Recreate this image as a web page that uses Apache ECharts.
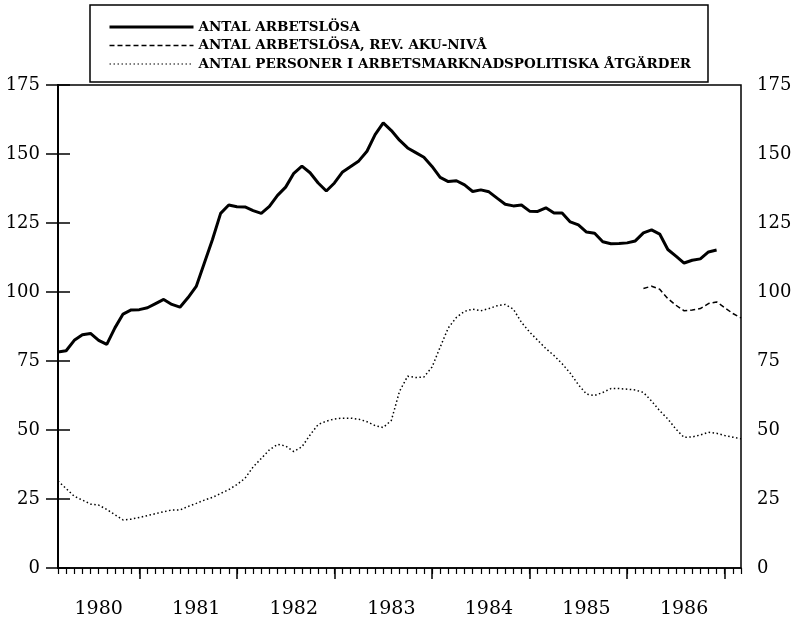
<!DOCTYPE html>
<html>
<head>
<meta charset="utf-8">
<script src="https://cdn.jsdelivr.net/npm/echarts@6/dist/echarts.min.js"></script>
<style>
  html, body { margin: 0; padding: 0; background: #fff; }
  #chart { width: 796px; height: 635px; }
</style>
</head>
<body>
<div id="chart"></div>
<script>
// month index 0 = aug 1979, 84 = aug 1986
var yearLabels = [1980, 1981, 1982, 1983, 1984, 1985, 1986];
var yearLabelMonths = [5, 17, 29, 41, 53, 65, 77];
var yearTickMonths = [10, 22, 34, 46, 58, 70, 82];

// antal arbetslösa, months 0..81
var arbetslosa = [
  78.3, 78.7, 82.5, 84.5, 85.0, 82.5, 81.0, 87.0, 92.0, 93.5,
  93.6, 94.3, 95.8, 97.3, 95.5, 94.5, 98.0, 102.0, 110.5, 119.0,
  128.5, 131.5, 130.9, 130.8, 129.5, 128.5, 131.0, 135.0, 138.0, 143.0,
  145.6, 143.2, 139.5, 136.6, 139.5, 143.5, 145.5, 147.5, 151.0, 157.0,
  161.3, 158.5, 155.0, 152.2, 150.5, 148.8, 145.5, 141.5, 140.0, 140.3,
  138.8, 136.4, 137.0, 136.3, 134.0, 131.8, 131.2, 131.5, 129.3, 129.2,
  130.5, 128.6, 128.6, 125.4, 124.3, 121.7, 121.3, 118.2, 117.5, 117.6,
  117.8, 118.5, 121.4, 122.5, 121.0, 115.4, 113.0, 110.5, 111.5, 112.0,
  114.5, 115.2
];

// antal arbetslösa, rev. aku-nivå, months 72..84
var revAkuStart = 72;
var revAku = [101.3, 102.1, 101.0, 97.6, 95.2, 93.2, 93.5, 94.0, 95.8, 96.4, 94.3, 92.2, 90.6];

// personer i arbetsmarknadspolitiska åtgärder, months 0..84
var atgarder = [
  31.5, 28.8, 26.0, 24.6, 23.2, 22.8, 21.2, 19.3, 17.4, 17.7,
  18.3, 19.0, 19.7, 20.4, 21.0, 21.0, 22.3, 23.4, 24.6, 25.6,
  27.0, 28.4, 30.2, 32.5, 36.6, 39.7, 42.8, 44.8, 44.2, 42.2,
  43.9, 48.2, 52.0, 53.2, 54.0, 54.3, 54.3, 53.9, 53.0, 51.6,
  50.9, 53.5, 64.0, 69.5, 69.0, 69.2, 72.8, 80.0, 87.0, 90.8,
  93.0, 93.8, 93.2, 94.0, 95.0, 95.5, 93.8, 89.0, 85.5, 82.5,
  79.5, 77.0, 74.0, 70.6, 66.4, 63.0, 62.5, 63.6, 65.0, 65.0,
  64.8, 64.5, 63.6, 60.5, 57.0, 54.0, 50.3, 47.3, 47.5, 48.2,
  49.2, 48.8, 48.0, 47.4, 46.8
];

var names = [
  'ANTAL ARBETSLÖSA',
  'ANTAL ARBETSLÖSA, REV. AKU-NIVÅ',
  'ANTAL PERSONER I ARBETSMARKNADSPOLITISKA ÅTGÄRDER'
];

function pairs(arr, start) {
  return arr.map(function (v, i) { return [start + i, v]; });
}

var monthTicks = [];
for (var m = 0; m <= 84; m++) monthTicks.push(m);

var chart = echarts.init(document.getElementById('chart'), null, { renderer: 'canvas' });

var serif = 'DejaVu Serif';

var option = {
  animation: false,
  backgroundColor: '#fff',
  grid: {
    left: 58, right: 55, top: 85, bottom: 67,
    show: true, borderColor: '#000', borderWidth: 1.5
  },
  legend: {
    left: 90, top: 5,
    orient: 'vertical',
    padding: [15, 17, 11, 18],
    itemGap: 4.5,
    itemWidth: 84,
    itemHeight: 12,
    borderColor: '#000',
    borderWidth: 1.5,
    itemStyle: { opacity: 0 },
    textStyle: { fontFamily: serif, fontWeight: 'bold', fontSize: 13.5, color: '#000' },
    data: [
      { name: names[0], lineStyle: { width: 3 } },
      { name: names[1], lineStyle: { width: 1.5 } },
      { name: names[2], lineStyle: { width: 1.2 } }
    ]
  },
  xAxis: [{
    type: 'value',
    min: 0, max: 84,
    position: 'bottom',
    axisLine: { show: true, onZero: false, lineStyle: { color: '#000', width: 1.5 } },
    axisTick: { show: true, customValues: monthTicks, length: 6, lineStyle: { color: '#000', width: 1.2 } },
    axisLabel: {
      customValues: yearLabelMonths,
      margin: 32,
      fontFamily: serif, fontSize: 19, color: '#000',
      formatter: function (v) { return String(yearLabels[yearLabelMonths.indexOf(v)]); }
    },
    splitLine: { show: false }
  }, {
    type: 'value',
    min: 0, max: 84,
    position: 'bottom',
    axisLine: { show: false },
    axisTick: { show: true, customValues: yearTickMonths, length: 11, lineStyle: { color: '#000', width: 1.5 } },
    axisLabel: { show: false },
    splitLine: { show: false }
  }],
  yAxis: [{
    type: 'value',
    min: 0, max: 175, interval: 25,
    position: 'left',
    axisLine: { show: true, lineStyle: { color: '#000', width: 2 } },
    axisTick: { show: true, length: 12, lineStyle: { color: '#000', width: 1.5 } },
    axisLabel: { margin: 18, fontFamily: serif, fontSize: 18, color: '#000' },
    splitLine: { show: false }
  }, {
    type: 'value',
    min: 0, max: 175, interval: 25,
    position: 'right',
    axisLine: { show: true, lineStyle: { color: '#000', width: 2 } },
    axisTick: { show: true, length: 12, lineStyle: { color: '#000', width: 1.5 } },
    axisLabel: { margin: 16, fontFamily: serif, fontSize: 18, color: '#000' },
    splitLine: { show: false }
  }],
  series: [{
    name: names[0],
    type: 'line',
    symbol: 'none',
    lineStyle: { color: '#000', width: 3 },
    itemStyle: { color: '#000' },
    data: pairs(arbetslosa, 0)
  }, {
    name: names[1],
    type: 'line',
    symbol: 'none',
    lineStyle: { color: '#000', width: 1.5, type: [5, 3] },
    itemStyle: { color: '#000' },
    data: pairs(revAku, revAkuStart)
  }, {
    name: names[2],
    type: 'line',
    symbol: 'none',
    lineStyle: { color: '#000', width: 1.5, type: [1.5, 2.5] },
    itemStyle: { color: '#000' },
    data: pairs(atgarder, 0)
  }]
};

chart.setOption(option);
</script>
</body>
</html>
